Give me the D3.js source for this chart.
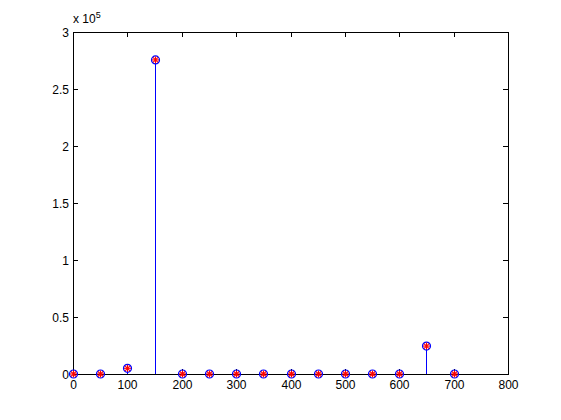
<!DOCTYPE html>
<html><head><meta charset="utf-8">
<script src="https://cdn.jsdelivr.net/npm/d3@7"></script>
<style>body{margin:0;background:#fff}svg{display:block}text{font-family:"Liberation Sans",Arial,sans-serif;font-size:12px;fill:#000}</style>
</head><body>
<svg id="c" width="561" height="420"></svg>
<script>
const xVals = [0,50,100,150,200,250,300,350,400,450,500,550,600,650,700];
const yVals = [0,0,5000,275500,0,0,0,0,0,0,0,0,0,24500,0];
const xTicks = [0,100,200,300,400,500,600,700,800];
const yTicks = [0,0.5,1,1.5,2,2.5,3];
const yTickLabels = ["0","0.5","1","1.5","2","2.5","3"];
const scaleExp = 5;

const svg = d3.select("#c");
const L=73,R=508,T=32,B=374;
const x = d3.scaleLinear().domain([0,800]).range([L,R]);
const y = d3.scaleLinear().domain([0,3e5]).range([B,T]);

svg.append("rect").attr("x",L).attr("y",T).attr("width",R-L).attr("height",B-T).attr("fill","#fff");

const tl=5;
const g=svg.append("g").attr("stroke","#000").attr("stroke-width",1).attr("shape-rendering","crispEdges");
xTicks.forEach(t=>{const px=Math.round(x(t))+0.5;
  g.append("line").attr("x1",px).attr("x2",px).attr("y1",B).attr("y2",B-tl);
  g.append("line").attr("x1",px).attr("x2",px).attr("y1",T).attr("y2",T+tl);
  svg.append("text").attr("x",px).attr("y",B+15).attr("text-anchor","middle").text(t);
});
yTicks.forEach((t,i)=>{const py=Math.round(y(t*1e5))+0.5;
  g.append("line").attr("x1",L).attr("x2",L+tl).attr("y1",py).attr("y2",py);
  g.append("line").attr("x1",R).attr("x2",R-tl).attr("y1",py).attr("y2",py);
  svg.append("text").attr("x",L-4).attr("y",py+4).attr("text-anchor","end").text(yTickLabels[i]);
});
svg.append("rect").attr("x",L+0.5).attr("y",T+0.5).attr("width",R-L).attr("height",B-T)
  .attr("fill","none").attr("stroke","#000").attr("shape-rendering","crispEdges");

const ex=svg.append("text").attr("x",L).attr("y",T-9);
ex.append("tspan").text("x 10");
ex.append("tspan").attr("dy",-5).attr("font-size","9px").text(scaleExp);

const data=xVals.map((v,i)=>({x:v,y:yVals[i]}));
svg.append("g").selectAll("line").data(data).enter().append("line")
  .attr("x1",d=>Math.round(x(d.x))+0.5).attr("x2",d=>Math.round(x(d.x))+0.5)
  .attr("y1",y(0)).attr("y2",d=>y(d.y)).attr("stroke","#0000ff").attr("stroke-width",1)
  .attr("shape-rendering","crispEdges");

const m=svg.append("g").selectAll("g").data(data).enter().append("g")
  .attr("transform",d=>`translate(${Math.round(x(d.x))+0.5},${y(d.y)})`);
m.append("circle").attr("r",4).attr("fill","none").attr("stroke","#0000ff").attr("stroke-width",1.2);
const s=3.5,sd=2.5;
[[-s,0,s,0],[0,-s,0,s],[-sd,-sd,sd,sd],[-sd,sd,sd,-sd]].forEach(a=>{
  m.append("line").attr("x1",a[0]).attr("y1",a[1]).attr("x2",a[2]).attr("y2",a[3]).attr("stroke","#ff0000").attr("stroke-width",1.1);
});
</script>
</body></html>
